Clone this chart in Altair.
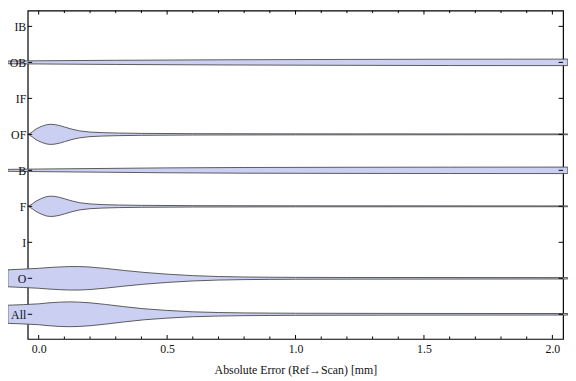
import altair as alt
import pandas as pd

# categories bottom -> top
categories = ["All", "O", "I", "F", "B", "OF", "IF", "OB", "IB"]

# violin half-widths (in category units)
all_x = [-0.12, -0.06, 0.0, 0.04, 0.08, 0.12, 0.16, 0.2, 0.26, 0.33, 0.41, 0.5, 0.6, 0.7, 0.8, 0.9, 1.0, 1.2, 1.5, 2.06]
all_w = [0.252, 0.268, 0.290, 0.318, 0.337, 0.345, 0.337, 0.318, 0.274, 0.214, 0.153, 0.107, 0.068, 0.049, 0.038, 0.033, 0.029, 0.026, 0.023, 0.021]

o_x = [-0.12, -0.06, 0.0, 0.04, 0.08, 0.12, 0.16, 0.2, 0.26, 0.33, 0.41, 0.5, 0.6, 0.7, 0.8, 0.9, 1.0, 1.2, 1.5, 2.06]
o_w = [0.236, 0.255, 0.277, 0.299, 0.315, 0.326, 0.326, 0.312, 0.274, 0.219, 0.164, 0.115, 0.074, 0.049, 0.036, 0.030, 0.026, 0.023, 0.022, 0.019]

of_x = [-0.04, -0.025, -0.01, 0.01, 0.03, 0.045, 0.06, 0.08, 0.10, 0.13, 0.16, 0.2, 0.25, 0.31, 0.4, 0.6, 1.0, 2.06]
of_w = [0.0, 0.068, 0.151, 0.219, 0.266, 0.279, 0.274, 0.247, 0.205, 0.142, 0.096, 0.063, 0.047, 0.036, 0.027, 0.019, 0.014, 0.011]

f_x = [-0.04, -0.025, -0.01, 0.01, 0.03, 0.045, 0.06, 0.08, 0.10, 0.13, 0.16, 0.2, 0.25, 0.31, 0.4, 0.6, 1.0, 2.06]
f_w = [0.0, 0.066, 0.145, 0.216, 0.268, 0.282, 0.277, 0.252, 0.211, 0.148, 0.099, 0.066, 0.047, 0.036, 0.027, 0.019, 0.014, 0.011]

b_x = [-0.12, 0.0, 0.2, 0.5, 0.8, 1.2, 1.6, 2.06]
b_w = [0.027, 0.036, 0.049, 0.068, 0.079, 0.085, 0.088, 0.090]

ob_x = [-0.12, 0.0, 0.3, 0.7, 1.2, 1.6, 2.06]
ob_w = [0.038, 0.044, 0.058, 0.071, 0.082, 0.088, 0.090]

series = {"All": (all_x, all_w), "O": (o_x, o_w), "F": (f_x, f_w),
          "B": (b_x, b_w), "OF": (of_x, of_w), "OB": (ob_x, ob_w)}

major_ticks = [0.0, 0.5, 1.0, 1.5, 2.0]
minor_ticks = [0.1, 0.2, 0.3, 0.4, 0.6, 0.7, 0.8, 0.9, 1.1, 1.2, 1.3, 1.4, 1.6, 1.7, 1.8, 1.9]

rows = []
for cat, (xs, ws) in series.items():
    pos = categories.index(cat) + 1
    for x, w in zip(xs, ws):
        rows.append({"cat": cat, "x": x, "lo": pos - w, "hi": pos + w})
df = pd.DataFrame(rows)

cat_df = pd.DataFrame({"pos": list(range(1, len(categories) + 1))})
maj_df = pd.DataFrame({"v": major_ticks})
min_df = pd.DataFrame({"v": minor_ticks})

W, H = 543, 333
xs_ = alt.Scale(domain=[-0.0427, 2.0416], nice=False, zero=False)
ys_ = alt.Scale(domain=[0.315, 9.438], nice=False, zero=False)
FONT = "Liberation Serif"

label_expr = "[" + ",".join("'%s'" % c for c in categories) + "][datum.value - 1]"

violins = alt.Chart(df).mark_area(
    fill="#CBD0F3", stroke="#4a4a4a", strokeWidth=0.9
).encode(
    x=alt.X("x:Q", scale=xs_, axis=alt.Axis(
        values=major_ticks, format=".1f", ticks=False, domain=False, grid=False,
        labelFont=FONT, labelFontSize=12, labelColor="#111", labelPadding=5,
        title="Absolute Error (Ref\u2192Scan) [mm]", titleFont=FONT, titleFontSize=12,
        titleFontWeight="normal", titleColor="#111", titlePadding=10)),
    y=alt.Y("lo:Q", scale=ys_, axis=alt.Axis(
        values=list(range(1, len(categories) + 1)), labelExpr=label_expr,
        ticks=False, domain=False, grid=False, labelFont=FONT, labelFontSize=12,
        labelColor="#111", labelPadding=2, title=None, zindex=1)),
    y2="hi:Q",
    detail="cat:N",
)

tick_color = "#000"
left_ticks = alt.Chart(cat_df).mark_rule(color=tick_color, strokeWidth=1).encode(
    y=alt.Y("pos:Q", scale=ys_), x=alt.value(0), x2=alt.value(4.5))
right_ticks = alt.Chart(cat_df).mark_rule(color=tick_color, strokeWidth=1).encode(
    y=alt.Y("pos:Q", scale=ys_), x=alt.value(W), x2=alt.value(W - 4.5))
bot_major = alt.Chart(maj_df).mark_rule(color=tick_color, strokeWidth=1).encode(
    x=alt.X("v:Q", scale=xs_), y=alt.value(H), y2=alt.value(H - 4))
bot_minor = alt.Chart(min_df).mark_rule(color=tick_color, strokeWidth=1).encode(
    x=alt.X("v:Q", scale=xs_), y=alt.value(H), y2=alt.value(H - 2.5))
top_major = alt.Chart(maj_df).mark_rule(color=tick_color, strokeWidth=1).encode(
    x=alt.X("v:Q", scale=xs_), y=alt.value(0), y2=alt.value(4))
top_minor = alt.Chart(min_df).mark_rule(color=tick_color, strokeWidth=1).encode(
    x=alt.X("v:Q", scale=xs_), y=alt.value(0), y2=alt.value(2.5))

chart = alt.layer(
    violins, left_ticks, right_ticks, bot_major, bot_minor, top_major, top_minor
).properties(
    width=W, height=H,
    autosize=alt.AutoSizeParams(type="none"),
    padding={"left": 20, "top": 0, "right": 5, "bottom": 40},
).configure_view(stroke="#000", strokeWidth=1.2)

chart.save("out.html", embed_options={"renderer": "svg", "actions": False})
